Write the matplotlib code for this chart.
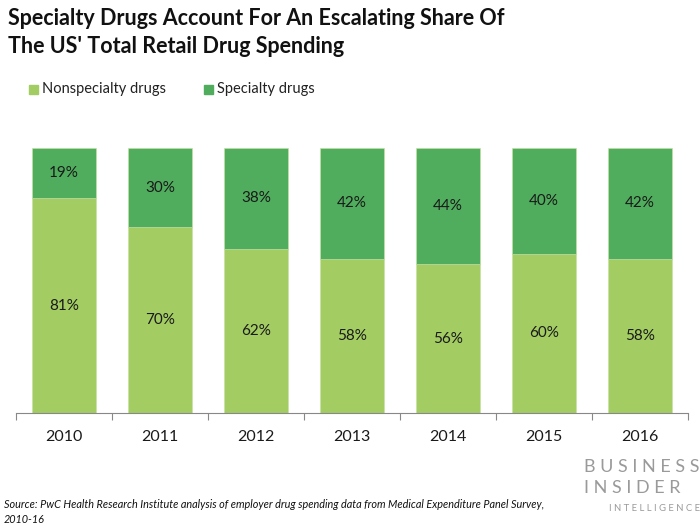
import matplotlib.pyplot as plt
import numpy as np

years = ['2010', '2011', '2012', '2013', '2014', '2015', '2016']
nonspecialty = [81, 70, 62, 58, 56, 60, 58]
specialty = [19, 30, 38, 42, 44, 40, 42]

light_green = '#a3cc63'
dark_green = '#50ad5d'

plt.rcParams['font.family'] = ['Lato', 'DejaVu Sans']

fig = plt.figure(figsize=(7, 5.26), dpi=100)
ax = fig.add_axes([0.023, 0.215, 0.96, 0.504])

x = np.arange(len(years))
ax.bar(x, nonspecialty, width=0.667, color=light_green, edgecolor='#c8e0a0', linewidth=0.4)
ax.bar(x, specialty, width=0.667, bottom=nonspecialty, color=dark_green, edgecolor='#c8e0a0', linewidth=0.4)

for i in range(len(years)):
    ax.text(x[i], nonspecialty[i] / 2, '%d%%' % nonspecialty[i], ha='center', va='center',
            fontsize=11, color='#1a1a1a')
    ax.text(x[i], nonspecialty[i] + specialty[i] / 2, '%d%%' % specialty[i], ha='center',
            va='center', fontsize=11, color='#1a1a1a')

ax.set_xlim(-0.5, len(years) - 0.5)
ax.set_ylim(0, 100)
ax.set_yticks([])
ax.set_xticks(np.arange(-0.5, len(years), 1.0), minor=False)
ax.set_xticklabels([])
ax.set_xticks(x, minor=True)
ax.set_xticklabels(years, minor=True, fontsize=11.5, color='#1a1a1a')
ax.tick_params(axis='x', which='major', length=5, color='#888888', width=0.8)
ax.tick_params(axis='x', which='minor', length=0, pad=12)
for s in ['top', 'left', 'right']:
    ax.spines[s].set_visible(False)
ax.spines['bottom'].set_color('#888888')
ax.spines['bottom'].set_linewidth(0.8)

fig.text(0.012, 0.938, "Specialty Drugs Account For An Escalating Share Of\nThe US' Total Retail Drug Spending",
         fontsize=15.5, fontweight='bold', color='#111111', va='center', linespacing=1.45)

# legend
fig.patches.append(plt.Rectangle((0.041, 0.822), 0.013, 0.017, transform=fig.transFigure,
                                 color=light_green))
fig.text(0.06, 0.831, 'Nonspecialty drugs', fontsize=10.5, va='center', color='#222222')
fig.patches.append(plt.Rectangle((0.291, 0.822), 0.013, 0.017, transform=fig.transFigure,
                                 color=dark_green))
fig.text(0.31, 0.831, 'Specialty drugs', fontsize=10.5, va='center', color='#222222')

fig.text(0.005, 0.027, 'Source: PwC Health Research Institute analysis of employer drug spending data from Medical Expenditure Panel Survey,\n2010-16',
         fontsize=7.8, style='italic', color='#111111', va='center', linespacing=1.45)

fig.text(1.0, 0.112, 'B U S I N E S S', fontsize=13, color='#9a9a9a', ha='right', va='center')
fig.text(0.972, 0.073, 'I N S I D E R', fontsize=13, color='#9a9a9a', ha='right', va='center')
fig.text(1.0, 0.034, 'I N T E L L I G E N C E', fontsize=6.8, color='#9a9a9a', ha='right', va='center')

fig.savefig('out.png', dpi=100)
